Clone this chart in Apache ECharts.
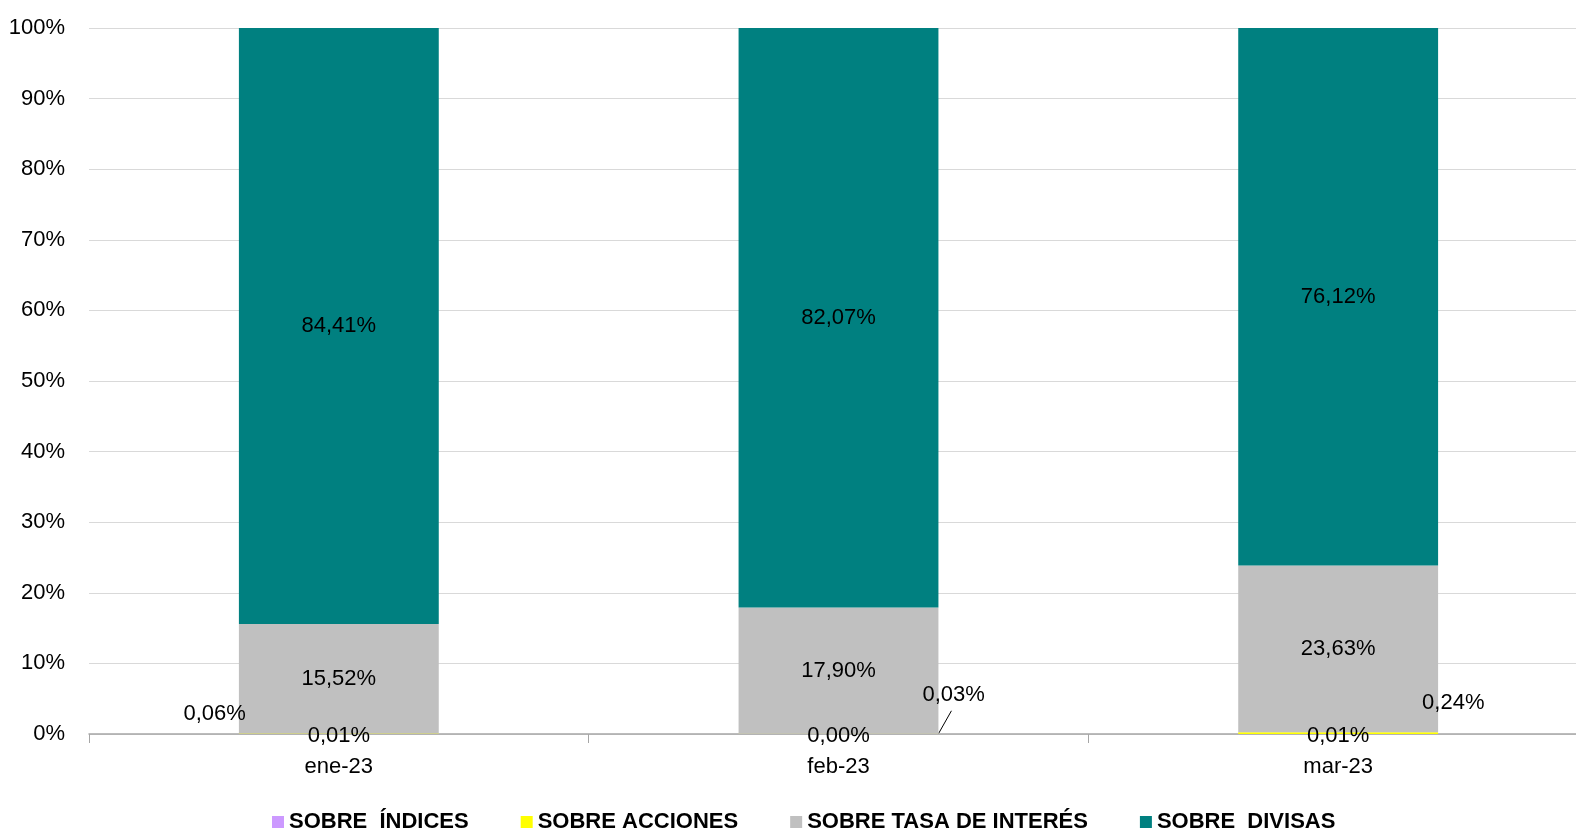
<!DOCTYPE html>
<html><head><meta charset="utf-8">
<script src="https://cdn.jsdelivr.net/npm/echarts@6/dist/echarts.min.js"></script>
<style>html,body{margin:0;padding:0;background:#fff}#c{width:1576px;height:834px}</style>
</head><body><div id="c"></div>
<script>
const categories = ['ene-23', 'feb-23', 'mar-23'];
const seriesNames = ['SOBRE  ÍNDICES', 'SOBRE ACCIONES', 'SOBRE TASA DE INTERÉS', 'SOBRE  DIVISAS'];
const indices = [0.01, 0.00, 0.01];
const acciones = [0.06, 0.03, 0.24];
const tasaInteres = [15.52, 17.90, 23.63];
const divisas = [84.41, 82.07, 76.12];
const yTicks = [0, 10, 20, 30, 40, 50, 60, 70, 80, 90, 100];

const FONT = "'Liberation Sans Narrow', 'Arial Narrow', 'Liberation Sans', Arial, sans-serif";
const FS = 22;
const fmt = v => v.toFixed(2).replace('.', ',') + '%';
const labelBase = { show: true, color: '#000', fontFamily: FONT, fontSize: FS, formatter: p => fmt(p.value) };

const chart = echarts.init(document.getElementById('c'), null, { renderer: 'canvas' });
chart.setOption({
  animation: false,
  grid: { left: 89, width: 1499, top: 28, bottom: 100, containLabel: false, outerBoundsMode: 'none' },
  legend: {
    top: 806, left: 267, itemWidth: 12, itemHeight: 12, itemGap: 52, icon: 'rect',
    textStyle: { fontFamily: FONT, fontSize: FS, fontWeight: 'bold', color: '#000' },
    data: seriesNames
  },
  xAxis: {
    type: 'category', data: categories, boundaryGap: true,
    axisLine: { lineStyle: { color: '#a6a6a6', width: 1.5 } },
    axisTick: { show: true, interval: 0, length: 9, lineStyle: { color: '#a6a6a6' } },
    axisLabel: { color: '#000', fontFamily: FONT, fontSize: FS, margin: 22 }
  },
  yAxis: {
    type: 'value', min: yTicks[0], max: yTicks[yTicks.length - 1], interval: 10,
    axisLine: { show: false }, axisTick: { show: false },
    splitLine: { lineStyle: { color: '#d9d9d9', width: 1 } },
    axisLabel: { color: '#000', fontFamily: FONT, fontSize: FS, margin: 24, formatter: '{value}%' }
  },
  series: [
    {
      name: seriesNames[0], type: 'bar', stack: 's', barWidth: '40%',
      itemStyle: { color: '#cc99ff' },
      label: Object.assign({}, labelBase, { position: 'inside', offset: [0, 2] }),
      data: indices
    },
    {
      name: seriesNames[1], type: 'bar', stack: 's',
      itemStyle: { color: '#ffff00' },
      data: acciones.map((v, i) => {
        if (i === 0) return { value: v, label: Object.assign({}, labelBase, { position: 'left', offset: [12, -20] }) };
        if (i === 1) return { value: v, label: Object.assign({}, labelBase, { position: 'right', offset: [-21, -39] }) };
        return { value: v, label: Object.assign({}, labelBase, { position: 'right', offset: [-21, -30] }) };
      })
    },
    {
      name: seriesNames[2], type: 'bar', stack: 's',
      itemStyle: { color: '#c0c0c0' },
      label: Object.assign({}, labelBase, { position: 'inside' }),
      data: tasaInteres
    },
    {
      name: seriesNames[3], type: 'bar', stack: 's',
      itemStyle: { color: '#008080' },
      label: Object.assign({}, labelBase, { position: 'inside' }),
      data: divisas
    }
  ]
});

// leader line from the right edge of the feb-23 bar to its label
(function () {
  const idx = 1;
  const base = chart.convertToPixel({ gridIndex: 0 }, [idx, indices[idx] + acciones[idx]]);
  const catW = chart.convertToPixel({ xAxisIndex: 0 }, categories[1]) - chart.convertToPixel({ xAxisIndex: 0 }, categories[0]);
  const x0 = base[0] + catW * 0.2;
  chart.setOption({
    graphic: [{
      type: 'line', silent: true,
      shape: { x1: x0, y1: base[1], x2: x0 + 13, y2: base[1] - 23 },
      style: { stroke: '#000', lineWidth: 1 }
    }]
  });
})();
</script>
</body></html>
